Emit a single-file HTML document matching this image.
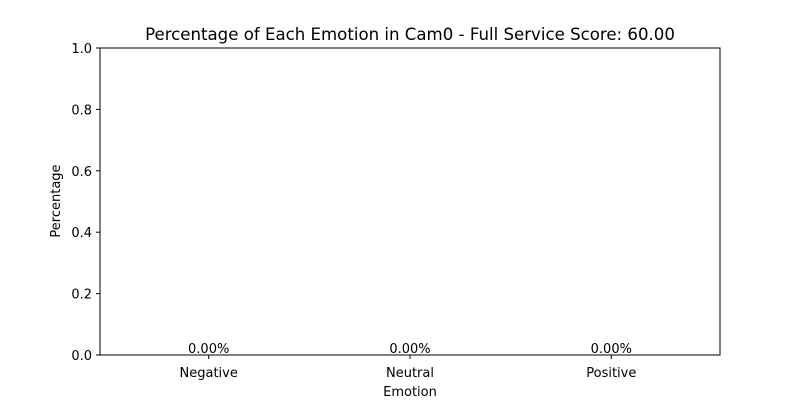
<!DOCTYPE html>
<html><head><meta charset="utf-8"><style>
html,body{margin:0;padding:0;background:#fff;}
svg text{font-family:"DejaVu Sans","Liberation Sans",sans-serif;fill:#000;}
</style></head><body>
<svg id="chart" width="800" height="400" xmlns="http://www.w3.org/2000/svg">
<rect x="0" y="0" width="800" height="400" fill="#fff"/>
<text x="410" y="40" font-size="16.6" text-anchor="middle">Percentage of Each Emotion in Cam0 - Full Service Score: 60.00</text>
<g id="bars"></g>
<g id="yticks"></g>
<g id="xticks"></g>
<rect x="100" y="48" width="620" height="307" fill="none" stroke="#000" stroke-width="1"/>
<text x="410" y="396" font-size="13" text-anchor="middle">Emotion</text>
<text x="60" y="201" font-size="13" text-anchor="middle" transform="rotate(-90 60 201)">Percentage</text>
</svg>
<script>
const categories = ["Negative","Neutral","Positive"];
const values = [0, 0, 0];
const yTicks = [0, 0.2, 0.4, 0.6, 0.8, 1.0];
const NS = "http://www.w3.org/2000/svg";
const L=100,R=720,T=48,B=355;
const xMin=-0.54,xMax=2.54;
function xs(i){return L+(i-xMin)/(xMax-xMin)*(R-L);}
function ys(v){return B-(v-0)/(1-0)*(B-T);}
function mk(tag,attrs,parent){const e=document.createElementNS(NS,tag);for(const k in attrs)e.setAttribute(k,attrs[k]);parent.appendChild(e);return e;}
const yg=document.getElementById('yticks');
yTicks.forEach(v=>{
  const y=ys(v);
  const ln=mk('line',{x1:L-4,x2:L,y1:y,y2:y,stroke:'#000'},yg);
  
  
  const t=mk('text',{x:L-8,y:y+5,'font-size':13,'text-anchor':'end'},yg);
  t.textContent=v.toFixed(1);
  
  
});
const xg=document.getElementById('xticks');
const bg=document.getElementById('bars');
categories.forEach((c,i)=>{
  const x=xs(i);
  const ln=mk('line',{x1:x,x2:x,y1:B,y2:B+4,stroke:'#000'},xg);
  
  
  const t=mk('text',{x:x,y:B+22,'font-size':13,'text-anchor':'middle'},xg);
  t.textContent=c;
  
  
  const w=(0.8/(xMax-xMin))*(R-L);
  const h=B-ys(values[i]);
  const r=mk('rect',{x:x-w/2,y:ys(values[i]),width:w,height:h,fill:'#1f77b4'},bg);
  
  
  const lb=mk('text',{x:x,y:ys(values[i])-2,'font-size':13,'text-anchor':'middle'},bg);
  lb.textContent=(values[i]*100).toFixed(2)+'%';
  
  
});
</script>
</body></html>
